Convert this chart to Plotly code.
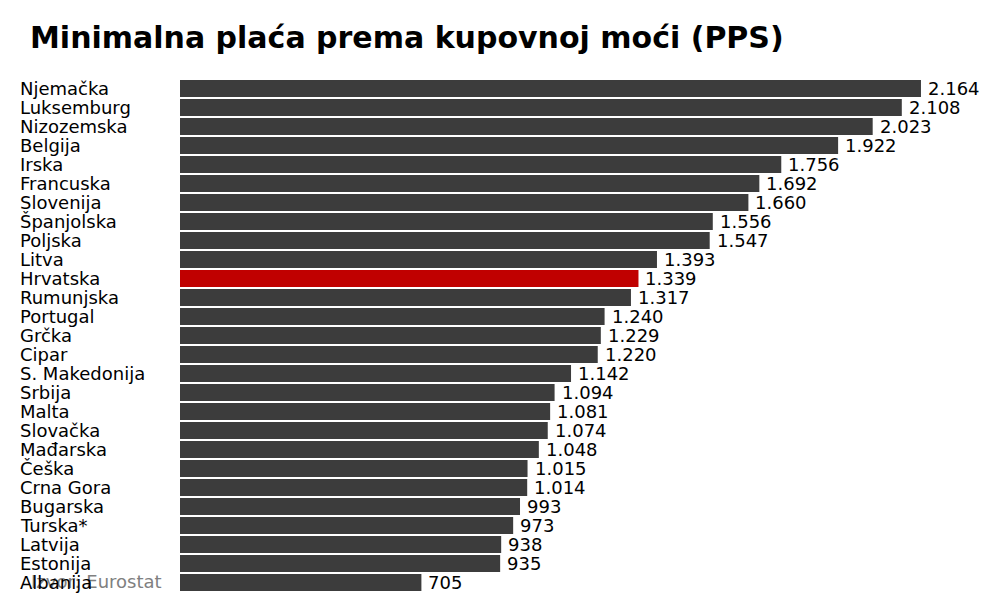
import plotly.graph_objects as go

countries = ["Njemačka", "Luksemburg", "Nizozemska", "Belgija", "Irska", "Francuska",
             "Slovenija", "Španjolska", "Poljska", "Litva", "Hrvatska", "Rumunjska",
             "Portugal", "Grčka", "Cipar", "S. Makedonija", "Srbija", "Malta",
             "Slovačka", "Mađarska", "Češka", "Crna Gora", "Bugarska", "Turska*",
             "Latvija", "Estonija", "Albanija"]
values = [2164, 2108, 2023, 1922, 1756, 1692, 1660, 1556, 1547, 1393, 1339, 1317,
          1240, 1229, 1220, 1142, 1094, 1081, 1074, 1048, 1015, 1014, 993, 973,
          938, 935, 705]
highlight = "Hrvatska"

title_text = "Minimalna plaća prema kupovnoj moći (PPS)"
source_text = "Izvor: Eurostat"

colors = ["#c00000" if c == highlight else "#3c3c3c" for c in countries]

FONT = "DejaVu Sans"

fig = go.Figure(go.Bar(
    x=values, y=countries, orientation="h",
    marker=dict(color=colors, line=dict(width=0)),
    hoverinfo="skip",
))

plot_l, plot_w = 172, 810
annotations = []
# source note (drawn first, beneath the labels)
annotations.append(dict(
    x=(21 - plot_l) / plot_w, xref="paper", y=countries[-1], yref="y", yshift=1,
    text=source_text, showarrow=False, xanchor="left", yanchor="middle",
    font=dict(family=FONT, size=18, color="#808080"),
))
for c, v in zip(countries, values):
    annotations.append(dict(
        x=(10 - plot_l) / plot_w, xref="paper", y=c, yref="y", text=c, showarrow=False,
        xanchor="left", yanchor="middle",
        font=dict(family=FONT, size=18, color="#000000"),
    ))
    annotations.append(dict(
        x=v, xref="x", y=c, yref="y", text=f"{v:,}".replace(",", "."), showarrow=False,
        xanchor="left", yanchor="middle", xshift=5,
        font=dict(family=FONT, size=18, color="#000000"),
    ))

fig.update_layout(
    width=1000, height=600,
    margin=dict(l=plot_l, r=1000 - plot_l - plot_w, t=68, b=12),
    paper_bgcolor="white", plot_bgcolor="white",
    bargap=0.1,
    showlegend=False,
    title=dict(text="<b>" + title_text + "</b>", x=22 / 1000, xanchor="left",
               y=1 - 29 / 600, yanchor="middle",
               font=dict(family=FONT, size=30, color="#000000")),
    xaxis=dict(range=[0, 2365.6], visible=False, fixedrange=True),
    yaxis=dict(autorange="reversed", showticklabels=False, showgrid=False,
               zeroline=False, fixedrange=True),
    annotations=annotations,
)

fig.write_html("out.html")
